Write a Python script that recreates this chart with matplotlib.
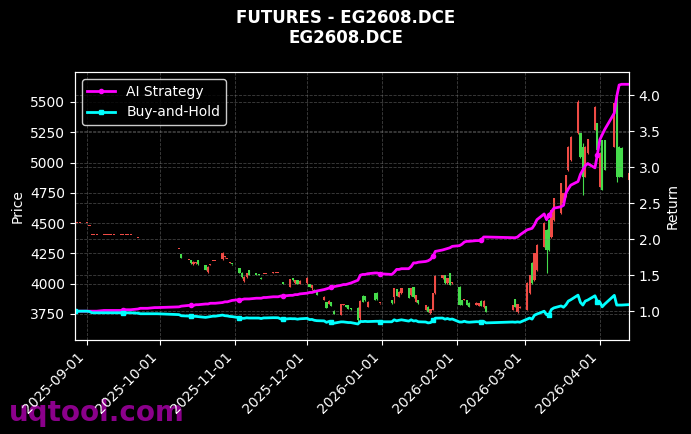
import matplotlib
matplotlib.use("Agg")
import matplotlib.pyplot as plt
import matplotlib.dates as mdates
import numpy as np
import pandas as pd

# DCE trading calendar for the contract window
holidays = ['2025-10-01', '2025-10-02', '2025-10-03', '2025-10-06', '2025-10-07', '2025-10-08',
            '2026-01-01', '2026-01-02',
            '2026-02-16', '2026-02-17', '2026-02-18', '2026-02-19', '2026-02-20', '2026-02-23',
            '2026-04-06']
dates = pd.bdate_range('2025-08-27', '2026-04-13', freq='C', holidays=holidays)

# daily OHLC, one row of numbers per month
opens = [4500, 4500, 4500,
         4500, 4480, 4400, 4400, 4400, 4400, 4400, 4400, 4400, 4400, 4400, 4400, 4400, 4400, 4400,
         4375, 4340, 4340, 4340, 4340, 4340, 4340,
         4285, 4242, 4195, 4195, 4160, 4170, 4195, 4154, 4094, 4158, 4185, 4187, 4201, 4218, 4203, 4173, 4163,
         4127, 4091, 4025, 4055, 4113, 4086, 4080, 4050, 4078, 4080, 4092, 4088, 4088, 4018, 4015,
         3975, 4044, 4003, 4030, 3998,
         4003, 3995, 3966, 3950, 3934, 3866, 3846, 3832, 3846, 3777, 3742, 3828, 3825, 3820, 3795,
         3797, 3714, 3898, 3898, 3810, 3920, 3926, 3838,
         3865, 3893, 3954, 3893, 3921, 3962, 3907, 3970, 3851, 3865, 3783, 3810, 3755, 3783, 3920,
         4044, 4071, 4003, 4085, 4003,
         3975, 3865, 3868, 3865, 3843, 3824, 3816, 3860, 3805, 3816, 3783, 3870, 3769, 3800,
         3783, 3920, 4173, 4030, 4113, 4305, 4443, 4525, 4388, 4525, 4580, 4663, 4718, 4938, 5021,
         5241, 5241, 5131, 4883, 5076, 5269, 5324,
         4800, 5186, 5186, 5131, 5571, 5131, 5120, 4855]
highs = [4500, 4500, 4500,
         4500, 4480, 4400, 4400, 4400, 4400, 4400, 4400, 4400, 4400, 4400, 4400, 4400, 4400, 4400,
         4375, 4340, 4340, 4340, 4340, 4340, 4340,
         4285, 4245, 4195, 4198, 4183, 4178, 4198, 4156, 4142, 4160, 4188, 4190, 4262, 4220, 4205, 4175, 4165,
         4130, 4093, 4060, 4090, 4116, 4090, 4082, 4052, 4082, 4082, 4095, 4090, 4090, 4022, 4017,
         4040, 4046, 4032, 4032, 4028,
         4052, 3998, 3990, 3952, 3936, 3895, 3850, 3862, 3848, 3780, 3835, 3832, 3828, 3822, 3800,
         3810, 3865, 3905, 3900, 3855, 3925, 3930, 3842,
         3868, 3965, 3958, 3938, 3965, 3966, 3965, 3972, 3910, 3868, 3826, 3812, 3790, 3922, 4068,
         4074, 4075, 4046, 4090, 4012,
         3978, 3868, 3872, 3868, 3845, 3845, 3840, 3862, 3862, 3818, 3826, 3873, 3835, 3812,
         4010, 4075, 4180, 4255, 4325, 4505, 4450, 4530, 4612, 4710, 4835, 4750, 4900, 5140, 5220,
         5515, 5245, 5160, 5135, 5195, 5470, 5330,
         5080, 5190, 5190, 5495, 5600, 5135, 5125, 4915]
lows = [4500, 4500, 4500,
        4500, 4480, 4400, 4400, 4400, 4400, 4400, 4400, 4400, 4400, 4400, 4400, 4400, 4400, 4400,
        4375, 4340, 4340, 4340, 4340, 4340, 4340,
        4285, 4210, 4195, 4165, 4158, 4165, 4158, 4110, 4085, 4158, 4185, 4184, 4195, 4215, 4200, 4170, 4158,
        4088, 4050, 4015, 4050, 4070, 4072, 4070, 4038, 4078, 4078, 4092, 4088, 4086, 4018, 3998,
        3970, 4025, 4000, 3998, 3995,
        4000, 3972, 3950, 3928, 3905, 3862, 3800, 3830, 3814, 3748, 3740, 3826, 3805, 3789, 3785,
        3686, 3673, 3845, 3860, 3805, 3862, 3868, 3836,
        3836, 3840, 3896, 3890, 3918, 3878, 3900, 3885, 3845, 3836, 3780, 3766, 3752, 3780, 3915,
        4040, 4000, 4000, 3985, 4000,
        3820, 3822, 3866, 3820, 3806, 3822, 3812, 3812, 3800, 3765, 3780, 3806, 3760, 3798,
        3780, 3915, 4000, 4025, 4108, 4300, 4085, 4270, 4380, 4520, 4575, 4660, 4715, 4930, 5015,
        5235, 5040, 4731, 4880, 5070, 5265, 5100,
        4795, 4770, 4935, 5125, 4840, 4880, 4880, 4850]
closes = [4500, 4500, 4500,
          4500, 4480, 4400, 4400, 4400, 4400, 4400, 4400, 4400, 4400, 4400, 4400, 4400, 4400, 4400,
          4375, 4340, 4340, 4340, 4340, 4340, 4340,
          4285, 4214, 4195, 4168, 4181, 4175, 4160, 4113, 4140, 4160, 4187, 4187, 4256, 4218, 4203, 4173, 4160,
          4091, 4053, 4055, 4086, 4072, 4075, 4072, 4040, 4080, 4080, 4094, 4089, 4089, 4020, 4000,
          4036, 4028, 4030, 4000, 4025,
          4050, 3975, 3985, 3930, 3907, 3893, 3802, 3860, 3816, 3750, 3832, 3830, 3810, 3791, 3790,
          3700, 3860, 3851, 3865, 3851, 3865, 3871, 3840,
          3838, 3962, 3898, 3934, 3962, 3880, 3962, 3887, 3907, 3838, 3824, 3769, 3788, 3920, 4063,
          4071, 4003, 4044, 3989, 4010,
          3824, 3824, 3870, 3824, 3810, 3843, 3838, 3816, 3860, 3769, 3824, 3810, 3832, 3810,
          4008, 4071, 4003, 4250, 4319, 4498, 4278, 4278, 4608, 4704, 4828, 4745, 4897, 5131, 5214,
          5503, 5048, 4883, 5131, 5192, 5462, 5103,
          5076, 4773, 4938, 5489, 4883, 4883, 4883, 4910]

# AI strategy equity curve
ai_strategy = [1.00, 1.00, 1.00,
               1.00, 1.00, 1.00, 1.00, 1.00, 1.01, 1.01, 1.01, 1.01, 1.01, 1.01, 1.02, 1.02, 1.02, 1.02,
               1.03, 1.04, 1.04, 1.04, 1.04, 1.05, 1.05,
               1.06, 1.07, 1.08, 1.08, 1.08, 1.09, 1.09, 1.10, 1.10, 1.11, 1.11, 1.11, 1.12, 1.13, 1.13, 1.14, 1.15,
               1.16, 1.16, 1.17, 1.17, 1.17, 1.18, 1.18, 1.18, 1.19, 1.19, 1.20, 1.20, 1.20, 1.21, 1.21,
               1.22, 1.22, 1.23, 1.23, 1.24,
               1.25, 1.26, 1.26, 1.27, 1.28, 1.30, 1.31, 1.32, 1.33, 1.34, 1.36, 1.37, 1.37, 1.38, 1.39,
               1.43, 1.50, 1.51, 1.51, 1.52, 1.53, 1.53, 1.52,
               1.51, 1.54, 1.58, 1.58, 1.59, 1.59, 1.62, 1.67, 1.67, 1.68, 1.69, 1.70, 1.72, 1.76, 1.83,
               1.85, 1.86, 1.87, 1.88, 1.90,
               1.91, 1.93, 1.96, 1.97, 1.97, 1.98, 1.98, 1.99, 2.03, 2.03, 2.02, 2.02, 2.03, 2.06,
               2.13, 2.14, 2.15, 2.20, 2.27, 2.35, 2.27, 2.33, 2.38, 2.43, 2.45, 2.47, 2.64, 2.70, 2.75,
               2.80, 2.90, 2.96, 3.02, 3.05, 2.99, 3.17,
               3.38, 3.45, 3.52, 3.75, 3.98, 4.14, 4.15, 4.15]

df = pd.DataFrame({'open': opens, 'high': highs, 'low': lows, 'close': closes,
                   'ai': ai_strategy}, index=dates)
df['bh'] = df['close'] / df['close'].iloc[0]

up_col = '#ef4b45'
down_col = '#45dc4b'

fig = plt.figure(figsize=(6.91, 4.34), dpi=100, facecolor='black')
ax = fig.add_axes([0.1085, 0.2166, 0.8015, 0.6174])
ax.set_facecolor('black')

colors = np.where(df['close'] >= df['open'], up_col, down_col)
body_lo = np.minimum(df['open'], df['close'])
body_h = np.maximum((df['close'] - df['open']).abs(), 8)
ax.vlines(df.index, df['low'], df['high'], colors=colors, linewidth=0.8, zorder=2)
ax.bar(df.index, body_h, bottom=body_lo, width=0.9, color=colors, zorder=3)

ax.set_ylim(3535, 5747)
ax.set_xlim(df.index[0], df.index[-1])
ax.set_ylabel('Price', color='white', fontsize=10)
ax.grid(True, color='gray', linestyle='--', linewidth=0.6, alpha=0.5)

ax2 = ax.twinx()
ax2.plot(df.index, df['ai'], color='magenta', linewidth=2, marker='o', markersize=3,
         markevery=14, label='AI Strategy')
ax2.plot(df.index, df['bh'], color='cyan', linewidth=2, marker='s', markersize=3,
         markevery=14, label='Buy-and-Hold')
ax2.set_ylim(0.6, 4.32)
ax2.set_ylabel('Return', color='white', fontsize=10)
ax2.grid(True, color='gray', linestyle='--', linewidth=0.6, alpha=0.5)

for a in (ax, ax2):
    a.tick_params(colors='white', labelsize=10)
    for s in a.spines.values():
        s.set_color('white')

ax.xaxis.set_major_locator(mdates.MonthLocator())
ax.xaxis.set_major_formatter(mdates.DateFormatter('%Y-%m-%d'))
plt.setp(ax.get_xticklabels(), rotation=45, ha='right')

leg = ax2.legend(loc='upper left', facecolor='black', edgecolor='white', fontsize=10)
for t in leg.get_texts():
    t.set_color('white')

fig.suptitle('FUTURES - EG2608.DCE\nEG2608.DCE', color='white', fontsize=12,
             fontweight='bold', y=0.98)
fig.text(0.013, 0.03, 'uqtool.com', color='#8b008b', fontsize=20, fontweight='bold',
         zorder=-1)

fig.savefig('out.png', dpi=100, facecolor='black')
